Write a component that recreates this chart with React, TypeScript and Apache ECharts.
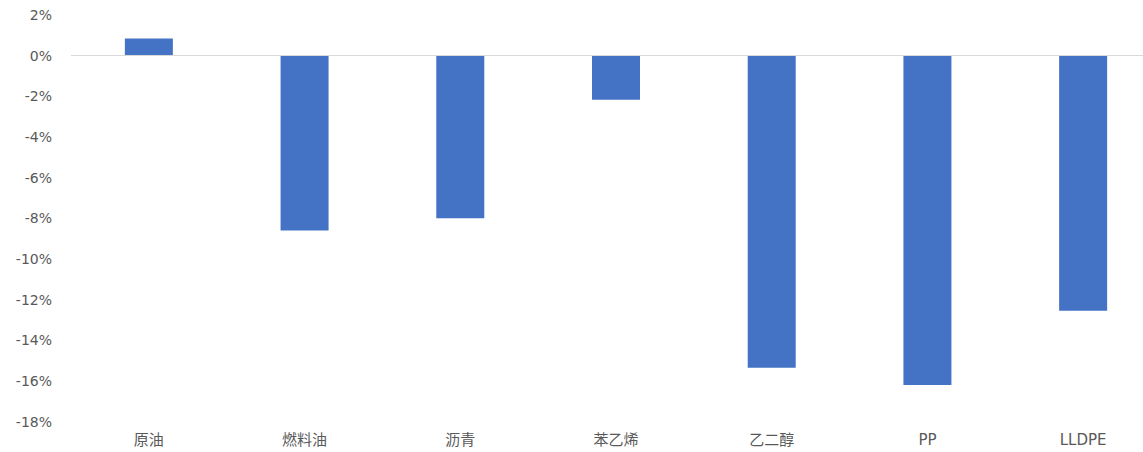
import React, { useEffect, useRef } from "react";
import * as echarts from "echarts";

const categories = ["原油", "燃料油", "沥青", "苯乙烯", "乙二醇", "PP", "LLDPE"];
const values = [0.84, -8.6, -8.0, -2.17, -15.35, -16.2, -12.55];
const yMin = -18;
const yMax = 2;
const yStep = 2;

export default function App() {
  const ref = useRef<HTMLDivElement>(null);
  useEffect(() => {
    if (!ref.current) return;
    const chart = echarts.init(ref.current, undefined, { renderer: "svg" });
    const font = '"DejaVu Sans", "Noto Sans CJK SC", sans-serif';
    chart.setOption({
      animation: false,
      backgroundColor: "#ffffff",
      grid: { left: 71, top: 15, width: 1090, height: 406.7, containLabel: false },
      xAxis: {
        type: "category",
        data: categories,
        axisLine: { show: false, onZero: false },
        axisTick: { show: false },
        axisLabel: { color: "#595959", fontSize: 15, fontFamily: font, margin: 11, interval: 0 },
        splitLine: { show: false },
      },
      yAxis: {
        type: "value",
        min: yMin,
        max: yMax,
        interval: yStep,
        axisLine: { show: false },
        axisTick: { show: false },
        splitLine: { show: false },
        axisLabel: {
          color: "#595959",
          fontSize: 14,
          fontFamily: font,
          margin: 19,
          formatter: (v: number) => `${Math.round(v)}%`,
        },
      },
      series: [
        {
          type: "bar",
          data: values,
          barWidth: 48,
          itemStyle: { color: "#4472C4" },
          markLine: {
            silent: true,
            symbol: ["none", "none"],
            label: { show: false },
            lineStyle: { color: "#d9d9d9", width: 1, type: "solid" },
            data: [{ yAxis: 0 }],
          },
        },
      ],
    });
    return () => chart.dispose();
  }, []);
  return (
    <div style={{ position: "fixed", left: 0, top: 0, width: 1143, height: 452, overflow: "hidden", background: "#fff" }}>
      <div ref={ref} style={{ position: "absolute", left: 0, top: 0, width: 1180, height: 452 }} />
    </div>
  );
}
